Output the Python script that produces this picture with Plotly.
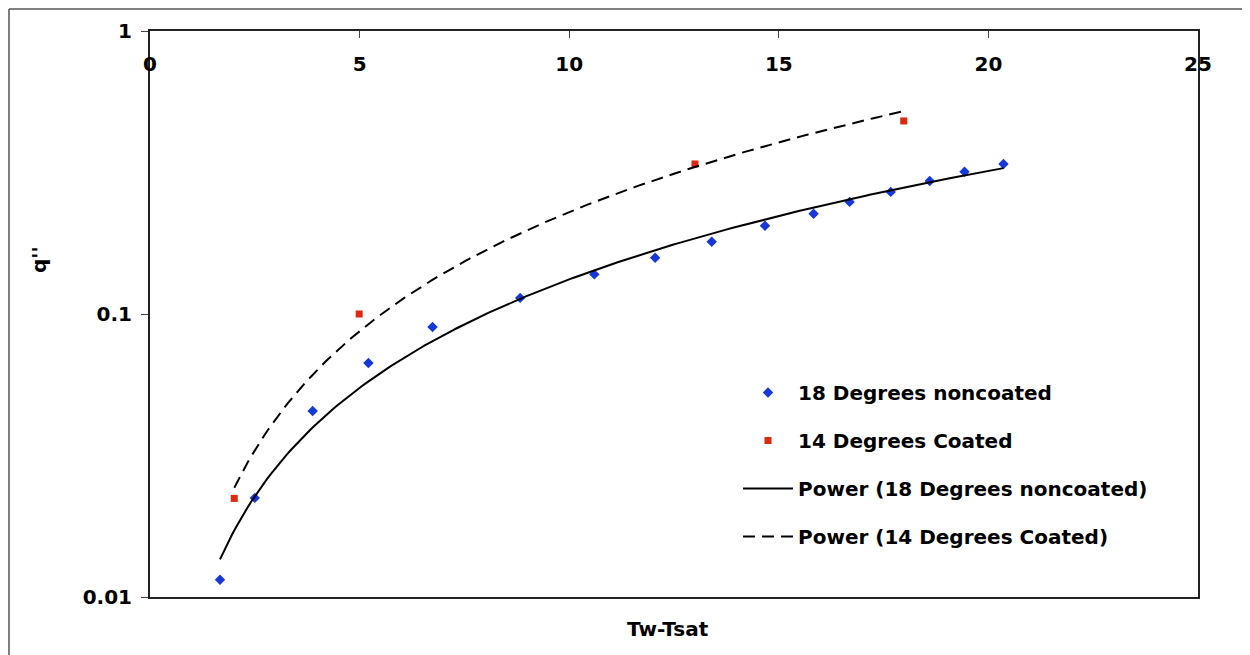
import numpy as np
import plotly.graph_objects as go

# --- data ---
x_noncoated = [1.67, 2.50, 3.88, 5.21, 6.74, 8.83, 10.60, 12.05, 13.40, 14.67,
               15.83, 16.69, 17.67, 18.60, 19.43, 20.36]
q_noncoated = [0.0115, 0.0224, 0.0454, 0.0671, 0.090, 0.114, 0.138, 0.158, 0.180,
               0.205, 0.226, 0.249, 0.270, 0.295, 0.318, 0.339]
x_coated = [2.01, 4.99, 13.00, 17.98]
q_coated = [0.0223, 0.100, 0.339, 0.481]

x_ticks = [0, 5, 10, 15, 20, 25]
y_ticks = [0.01, 0.1, 1]
y_ticktext = ["0.01", "0.1", "1"]

name_a = "18 Degrees noncoated"
name_b = "14 Degrees Coated"


def power_fit(x, y):
    b, loga = np.polyfit(np.log(x), np.log(y), 1)
    xs = np.linspace(min(x), max(x), 200)
    return xs, np.exp(loga) * xs ** b


fa_x, fa_y = power_fit(x_noncoated, q_noncoated)
fb_x, fb_y = power_fit(x_coated, q_coated)

FONT = dict(family="DejaVu Sans", size=20, color="black", weight="bold")
BLUE = "#1638d8"
RED = "#dd2a0e"

fig = go.Figure()
fig.add_trace(go.Scatter(x=x_noncoated, y=q_noncoated, mode="markers", name=name_a,
                         legendgroup="a",
                         marker=dict(symbol="diamond", size=8, color=BLUE)))
fig.add_trace(go.Scatter(x=x_coated, y=q_coated, mode="markers", name=name_b,
                         legendgroup="b",
                         marker=dict(symbol="square", size=7, color=RED)))
fig.add_trace(go.Scatter(x=fa_x, y=fa_y, mode="lines", name="Power (" + name_a + ")",
                         legendgroup="c",
                         line=dict(color="black", width=2)))
fig.add_trace(go.Scatter(x=fb_x, y=fb_y, mode="lines", name="Power (" + name_b + ")",
                         legendgroup="d",
                         line=dict(color="black", width=2, dash="12px,7px")))

# page offset of the figure inside the browser (body margin)
OFF = 8
W, H = 1250, 655
# plot area in screen pixels
SL, ST, SR, SB = 150, 31, 1198, 597
pw, ph = SR - SL, SB - ST
L, T = SL - OFF, ST - OFF
R, B = W - L - pw, H - T - ph


def px(xs):
    return (xs - SL) / pw


def py(ys):
    return (SB - ys) / ph


fig.update_layout(
    width=W, height=H,
    margin=dict(l=L, r=R, t=T, b=B),
    paper_bgcolor="white", plot_bgcolor="white",
    font=FONT,
    showlegend=True,
    legend=dict(x=px(738), y=py(373), xanchor="left", yanchor="top",
                font=FONT, bgcolor="rgba(0,0,0,0)", tracegroupgap=19,
                itemwidth=50, itemsizing="trace"),
    xaxis=dict(range=[0, 25], side="top", tickvals=x_ticks, ticks="inside",
               ticklen=7, tickcolor="#444", ticklabelposition="outside",
               ticklabelstandoff=-50,
               showgrid=False, zeroline=False, showline=True, linecolor="#222",
               linewidth=2, mirror=True, tickfont=FONT),
    yaxis=dict(type="log", range=[-2, 0], tickvals=y_ticks, ticktext=y_ticktext,
               ticks="outside", ticklen=7, tickcolor="#444", ticklabelstandoff=5,
               showgrid=False, zeroline=False, showline=True, linecolor="#222",
               linewidth=2, mirror=True, tickfont=FONT),
    annotations=[
        dict(text="q''", textangle=-90, x=px(39), y=py(260), xref="paper", yref="paper",
             showarrow=False, font=FONT, xanchor="center", yanchor="middle"),
        dict(text="Tw-Tsat", x=px(668), y=py(629), xref="paper", yref="paper",
             showarrow=False, font=FONT, xanchor="center", yanchor="middle"),
    ],
    shapes=[
        dict(type="line", xref="paper", yref="paper", x0=px(OFF + 1), x1=px(W + OFF),
             y0=py(OFF + 1), y1=py(OFF + 1), line=dict(color="#555", width=1.5)),
        dict(type="line", xref="paper", yref="paper", x0=px(OFF + 1), x1=px(OFF + 1),
             y0=py(OFF + 1), y1=py(H + OFF), line=dict(color="#555", width=1.5)),
    ],
)

fig.write_html("out.html")
